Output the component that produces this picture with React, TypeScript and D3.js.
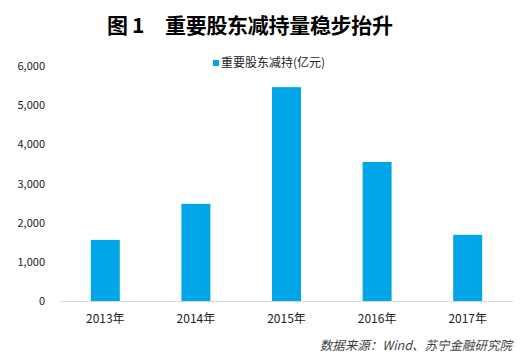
import React from "react";
import * as d3 from "d3";

const categories = ["2013年", "2014年", "2015年", "2016年", "2017年"];
const values = [1560, 2480, 5460, 3550, 1690];
const yTicks = [0, 1000, 2000, 3000, 4000, 5000, 6000];
const seriesName = "重要股东减持(亿元)";
const titleLabel = "图";
const titleNum = "1";
const titleText = "重要股东减持量稳步抬升";
const sourceText = "数据来源：Wind、苏宁金融研究院";

export default function App() {
  const W = 521, H = 355;
  const left = 60, right = 513, top = 66, bottom = 301;
  const x = d3.scaleBand<string>().domain(categories).range([left, right]).paddingInner(0.68).paddingOuter(0.34);
  const y = d3.scaleLinear().domain([0, 6000]).range([bottom, top]);
  const fmt = d3.format(",");
  const font = "'Microsoft YaHei', 'Noto Sans CJK SC', 'DejaVu Sans', sans-serif";
  return (
    <svg width={W} height={H} style={{ position: "absolute", left: 0, top: 0, background: "#fff" }} fontFamily={font}>
      <text x={107} y={33} fontSize={21} fontWeight="bold" fill="#000">{titleLabel}</text>
      <text x={132} y={33} fontSize={21} fontWeight="bold" fill="#000">{titleNum}</text>
      <text x={165} y={33} fontSize={21} fontWeight="bold" fill="#000" textLength={228} lengthAdjust="spacing">{titleText}</text>
      <rect x={213} y={60} width={6} height={6} fill="#00A6E8" />
      <text x={221} y={67} fontSize={12} fill="#222">{seriesName}</text>
      {yTicks.map((t) => (
        <text key={t} x={45} y={y(t) + 4} textAnchor="end" fontSize={11} fill="#222">{fmt(t)}</text>
      ))}
      {values.map((v, i) => (
        <rect key={categories[i]} x={x(categories[i])!} y={y(v)} width={x.bandwidth()} height={bottom - y(v)} fill="#00A6E8" />
      ))}
      <line x1={left} x2={right} y1={bottom + 0.5} y2={bottom + 0.5} stroke="#d9d9d9" strokeWidth={1} />
      {categories.map((c) => (
        <text key={c} x={x(c)! + x.bandwidth() / 2} y={323} textAnchor="middle" fontSize={12} fill="#222">{c}</text>
      ))}
      <text x={512} y={350} textAnchor="end" fontSize={12.5} fontStyle="italic" fill="#444">{sourceText}</text>
    </svg>
  );
}
